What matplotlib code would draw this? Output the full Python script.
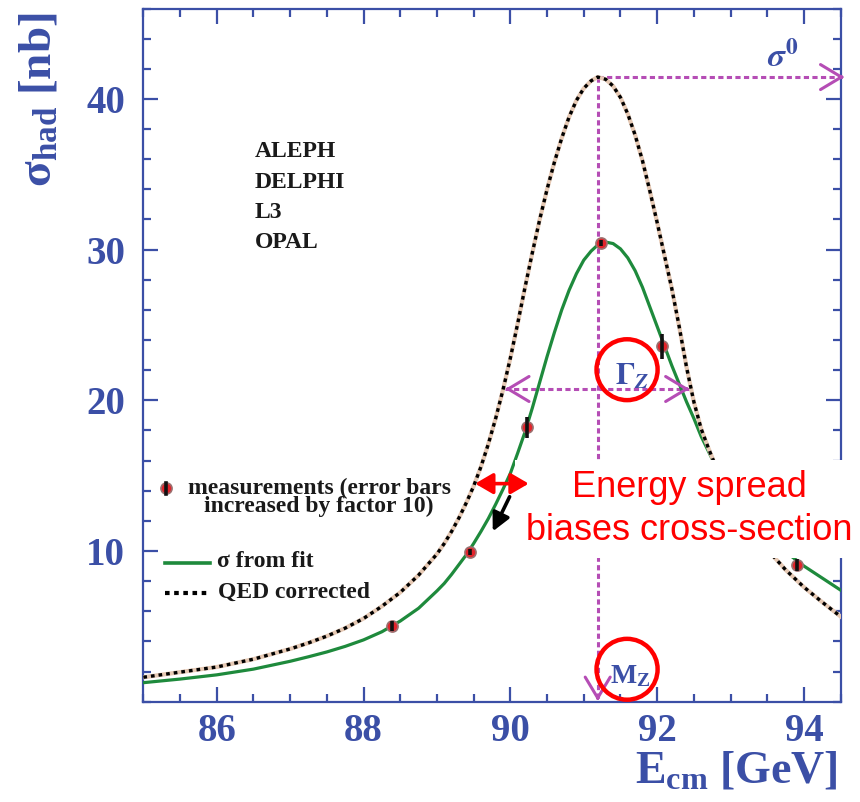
import numpy as np
import matplotlib
matplotlib.use("Agg")
import matplotlib.pyplot as plt
from matplotlib.patches import Ellipse, Rectangle


# QED corrected lineshape (dotted)
qed_energy = [85.0, 85.5, 86.0, 86.5, 87.0, 87.25, 87.5, 87.75, 88.0, 88.25, 88.5, 88.75,
              89.0, 89.1, 89.2, 89.3, 89.4, 89.5, 89.6, 89.7, 89.8, 89.9, 90.0,
              90.1, 90.2, 90.3, 90.4, 90.5, 90.6, 90.7, 90.8, 90.9, 91.0, 91.1,
              91.19, 91.3, 91.4, 91.5, 91.6, 91.7, 91.8, 91.9, 92.0, 92.1, 92.2,
              92.3, 92.4, 92.5, 92.6, 92.7, 92.8, 92.9, 93.0, 93.25, 93.5, 93.75,
              94.0, 94.25, 94.5]
qed_xsec = [1.62, 1.96, 2.30, 2.82, 3.50, 3.90, 4.35, 4.88, 5.52, 6.33, 7.25, 8.40,
            9.80, 10.5, 11.3, 12.2, 13.2, 14.3, 15.6, 17.1, 18.8, 20.7, 22.8,
            25.1, 27.5, 29.8, 32.0, 34.0, 35.8, 37.4, 38.8, 39.9, 40.7, 41.2,
            41.45, 41.3, 40.85, 40.1, 39.0, 37.6, 35.9, 33.9, 31.8, 29.6, 27.4,
            24.9, 22.2, 19.9, 18.1, 16.8, 15.6, 14.6, 13.7, 11.7, 10.1, 8.75,
            7.6, 6.6, 5.65]

# sigma from fit (green)
fit_energy = [85.0, 85.5, 86.0, 86.5, 87.0, 87.25, 87.5, 87.75, 88.0, 88.25, 88.5, 88.75,
              89.0, 89.1, 89.2, 89.3, 89.4, 89.5, 89.6, 89.7, 89.8, 89.9, 90.0,
              90.1, 90.2, 90.3, 90.4, 90.5, 90.6, 90.7, 90.8, 90.9, 91.0, 91.1,
              91.2, 91.3, 91.4, 91.5, 91.6, 91.7, 91.8, 91.9, 92.0, 92.1, 92.2,
              92.3, 92.4, 92.5, 92.6, 92.7, 92.8, 92.9, 93.0, 93.25, 93.5, 93.75,
              94.0, 94.25, 94.5]
fit_xsec = [1.26, 1.50, 1.78, 2.16, 2.68, 2.98, 3.30, 3.67, 4.10, 4.64, 5.35, 6.20,
            7.35, 7.85, 8.45, 9.10, 9.75, 10.5, 11.3, 12.15, 13.1, 14.1, 15.15,
            16.5, 17.9, 19.5, 21.2, 22.9, 24.5, 26.0, 27.3, 28.4, 29.3, 29.9,
            30.35, 30.5, 30.4, 30.05, 29.45, 28.6, 27.5, 26.2, 24.9, 23.6, 22.3,
            21.1, 19.9, 18.8, 17.6, 16.6, 15.6, 14.8, 14.0, 12.4, 11.1, 9.95,
            9.0, 8.2, 7.4]

# measurements (error bars x10)
meas_energy = [88.39, 89.45, 90.22, 91.24, 92.06, 93.91]
meas_xsec = [5.02, 9.93, 18.21, 30.46, 23.58, 9.10]
meas_err = [0.35, 0.2, 0.7, 0.2, 0.85, 0.4]

# Z parameters marked on the plot
m_z = 91.19
sigma0 = 41.45
half_max = 20.75
half_left, half_right = 89.93, 92.44

experiments = ["ALEPH", "DELPHI", "L3", "OPAL"]
x_ticks = [86, 88, 90, 92, 94]
y_ticks = [10, 20, 30, 40]

BLUE = "#3b4fa6"
MAG = "#b54db5"
GREEN = "#1e8a3c"
RED = "#ff0000"
INK = "#1a1a1a"


def arrow_head(ax, tip, back):
    ax.annotate("", xy=tip, xytext=back, annotation_clip=False,
                arrowprops=dict(arrowstyle="->,head_length=0.75,head_width=0.45",
                                color=MAG, lw=2.2, mutation_scale=20,
                                shrinkA=0, shrinkB=0))


def main() -> None:
    plt.rcParams["font.family"] = "Liberation Serif"
    plt.rcParams["font.weight"] = "bold"
    plt.rcParams["mathtext.fontset"] = "custom"
    plt.rcParams["mathtext.rm"] = "Liberation Serif:bold"
    plt.rcParams["mathtext.bf"] = "Liberation Serif:bold"
    plt.rcParams["mathtext.it"] = "Liberation Serif:italic:bold"

    fig = plt.figure(figsize=(8.6, 8.02), dpi=100)
    ax = fig.add_axes([0.1667, 0.1251, 0.8108, 0.8643])

    # curves
    ax.plot(fit_energy, fit_xsec, color=GREEN, lw=2.3, zorder=3)
    ax.plot(qed_energy, qed_xsec, color="#e6c9b4", lw=3.0, zorder=3)
    ax.plot(qed_energy, qed_xsec, color="black", lw=2.4, ls=(0, (1.1, 1.2)), zorder=3)

    # magenta construction lines
    dot = (0, (1.7, 1.1))
    ax.plot([m_z, m_z], [sigma0, 0], color=MAG, lw=2.2, ls=dot, zorder=2)
    ax.plot([m_z, 94.52], [sigma0, sigma0], color=MAG, lw=2.2, ls=dot, zorder=2, clip_on=False)
    ax.plot([half_left, half_right], [half_max, half_max], color=MAG, lw=2.2, ls=dot, zorder=2)
    arrow_head(ax, (m_z, 0.05), (m_z, 0.4))
    arrow_head(ax, (94.55, sigma0), (94.5, sigma0))
    arrow_head(ax, (half_left, half_max), (half_left + 0.05, half_max))
    arrow_head(ax, (half_right, half_max), (half_right - 0.05, half_max))

    # measurements
    ax.plot(meas_energy, meas_xsec, "o", ms=8, mfc="#e3242b", mec="#9c7070", mew=1.2, zorder=5)
    lo = np.array(meas_xsec) - np.array(meas_err)
    hi = np.array(meas_xsec) + np.array(meas_err)
    ax.vlines(meas_energy, lo, hi, color="#111111", lw=2.6, zorder=6)

    # labels on the plot
    ax.text(93.5, 42.1, r"$\sigma^0$", color=BLUE, fontsize=24, math_fontfamily="stix")
    ax.text(91.42, 21.0, r"$\Gamma_Z$", color=BLUE, fontsize=22, math_fontfamily="stix")
    ax.text(91.36, 1.2, r"M$_\mathrm{Z}$", color=BLUE, fontsize=20)
    for c in [(91.59, 22.03), (91.59, 2.15)]:
        ax.add_patch(Ellipse(c, 0.832, 4.04, fill=False, ec=RED, lw=3.2, zorder=7))

    # experiment names
    for i, name in enumerate(experiments):
        ax.text(0.160, 0.793 - i * 0.0435, name, transform=ax.transAxes,
                fontsize=17, va="center", color=INK)

    # hand-made legend
    ax.plot([0.0325], [0.308], "o", ms=8, mfc="#e3242b", mec="#9c7070", mew=1.2,
            transform=ax.transAxes, clip_on=False, zorder=5)
    ax.plot([0.0325, 0.0325], [0.300, 0.316], color="#111111", lw=2.6,
            transform=ax.transAxes, zorder=6)
    ax.text(0.252, 0.295, "measurements (error bars\nincreased by factor 10)",
            transform=ax.transAxes, fontsize=17, ha="center", va="center",
            multialignment="center", linespacing=0.78, color=INK)
    ax.plot([0.031, 0.096], [0.200, 0.200], color=GREEN, lw=2.6, transform=ax.transAxes)
    ax.text(0.105, 0.2015, "σ from fit", transform=ax.transAxes,
            fontsize=17, va="center", color=INK)
    ax.plot([0.031, 0.096], [0.157, 0.157], color="black", lw=3.0, ls=(0, (1.1, 1.1)),
            transform=ax.transAxes)
    ax.text(0.107, 0.157, "QED corrected", transform=ax.transAxes,
            fontsize=17, va="center", color=INK)

    # axes styling
    ax.set_xlim(85, 94.5)
    ax.set_ylim(0, 46)
    ax.set_xticks(x_ticks)
    ax.set_xticks(np.arange(85, 94.6, 0.5), minor=True)
    ax.set_yticks(y_ticks)
    ax.set_yticks(np.arange(0, 46.1, 2), minor=True)
    ax.tick_params(which="both", direction="in", top=True, right=True,
                   color=BLUE, width=1.6, labelcolor=BLUE, labelsize=28)
    ax.tick_params(which="major", length=11)
    ax.tick_params(which="minor", length=6)
    ax.tick_params(axis="x", pad=8)
    ax.tick_params(axis="y", pad=13)
    for s in ax.spines.values():
        s.set_color(BLUE)
        s.set_linewidth(1.6)

    ax.text(0.996, -0.117, r"E$_\mathrm{cm}$ [GeV]", transform=ax.transAxes,
            ha="right", va="baseline", fontsize=33, color=BLUE)
    ax.text(-0.133, 0.995, r"σ$_\mathrm{had}$ [nb]", transform=ax.transAxes,
            ha="right", va="baseline", rotation=90, rotation_mode="anchor",
            fontsize=34, color=BLUE)

    # white callout box, covering curves and the right spine
    ax.add_patch(Rectangle((0.599, 0.304), 0.401, 0.122, transform=fig.transFigure,
                           facecolor="white", edgecolor="none", zorder=10, clip_on=False))
    for y, line in [(0.3807, "Energy spread"), (0.3267, "biases cross-section")]:
        ax.text(0.802, y, line, transform=fig.transFigure, ha="center", va="baseline",
                color=RED, fontsize=26, family="Liberation Sans", weight="normal",
                zorder=11, clip_on=False)

    # energy spread arrows (drawn above the box)
    ax.annotate("", xy=(89.52, 14.47), xytext=(90.25, 14.47), annotation_clip=False,
                zorder=12,
                arrowprops=dict(arrowstyle="<|-|>,head_length=0.6,head_width=0.35",
                                color=RED, lw=2.6, mutation_scale=18, shrinkA=0, shrinkB=0))
    ax.annotate("", xy=(89.76, 11.3), xytext=(89.99, 13.6), zorder=12,
                arrowprops=dict(arrowstyle="-|>,head_length=0.6,head_width=0.3",
                                color="black", lw=2.6, mutation_scale=18, shrinkA=0, shrinkB=0))

    fig.savefig("out.png", dpi=100)
    plt.close(fig)


if __name__ == "__main__":
    main()
